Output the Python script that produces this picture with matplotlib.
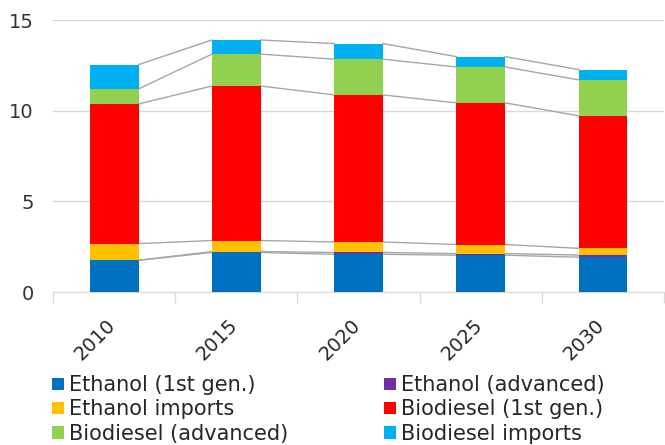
import matplotlib.pyplot as plt
import matplotlib.transforms as mtransforms
import numpy as np

years = ['2010', '2015', '2020', '2025', '2030']
ethanol_1st = [1.75, 2.18, 2.08, 2.03, 1.92]
ethanol_adv = [0.00, 0.05, 0.10, 0.09, 0.12]
ethanol_imp = [0.92, 0.61, 0.58, 0.50, 0.37]
biodiesel_1st = [7.70, 8.52, 8.11, 7.81, 7.31]
biodiesel_adv = [0.83, 1.76, 1.97, 1.98, 1.98]
biodiesel_imp = [1.34, 0.78, 0.86, 0.57, 0.57]

series = [
    ('Ethanol (1st gen.)', ethanol_1st, '#0070C0'),
    ('Ethanol (advanced)', ethanol_adv, '#7030A0'),
    ('Ethanol imports', ethanol_imp, '#FFC000'),
    ('Biodiesel (1st gen.)', biodiesel_1st, '#FF0000'),
    ('Biodiesel (advanced)', biodiesel_adv, '#92D050'),
    ('Biodiesel imports', biodiesel_imp, '#00B0F0'),
]

plt.rcParams['font.family'] = ['DejaVu Sans']
fig = plt.figure(figsize=(6.65, 4.45), dpi=100)
ax = fig.add_axes([0.0797, 0.3438, 0.919, 0.6112])

x = np.arange(len(years))
w = 0.4
bottom = np.zeros(len(years))
handles = {}
for name, vals, col in series:
    vals = np.array(vals)
    b = ax.bar(x, vals, w, bottom=bottom, color=col, label=name, zorder=3)
    handles[name] = b
    top = bottom + vals
    # series lines between bars
    for i in range(len(years) - 1):
        ax.plot([x[i] + w / 2, x[i + 1] - w / 2], [top[i], top[i + 1]],
                color='#A6A6A6', lw=1, zorder=2)
    bottom = top

ax.set_xlim(-0.5, len(years) - 0.5)
ax.set_ylim(0, 15)
ax.set_yticks([0, 5, 10, 15])
ax.yaxis.grid(True, color='#D9D9D9', lw=1, zorder=0)
ax.set_axisbelow(True)
ax.set_xticks(x)
ax.set_xticklabels(years, rotation=45, fontsize=14, color='#262626')
ax.set_xticks(np.arange(-0.5, len(years)), minor=True)
ax.tick_params(axis='x', which='major', length=0, pad=17)
ax.tick_params(axis='x', which='minor', length=8, color='#D9D9D9', width=1)
ax.tick_params(axis='y', length=0, labelsize=14, labelcolor='#333333', pad=14)
for s in ['left', 'right', 'top']:
    ax.spines[s].set_visible(False)
ax.spines['bottom'].set_color('#D9D9D9')
shift = mtransforms.ScaledTranslation(-8 / 100, 0, fig.dpi_scale_trans)
for lbl in ax.get_xticklabels():
    lbl.set_ha('right')
    lbl.set_rotation_mode('anchor')
    lbl.set_transform(lbl.get_transform() + shift)

order = ['Ethanol (1st gen.)', 'Ethanol imports', 'Biodiesel (advanced)',
         'Ethanol (advanced)', 'Biodiesel (1st gen.)', 'Biodiesel imports']
fig.legend([handles[n] for n in order], order, ncol=2, loc='upper left',
           bbox_to_anchor=(0.063, 0.18), frameon=False, fontsize=15,
           handlelength=0.55, handleheight=0.55, handletextpad=0.25,
           columnspacing=4.6, labelspacing=0.2, borderpad=0,
           labelcolor='#262626')

fig.savefig('out.png', dpi=100)
